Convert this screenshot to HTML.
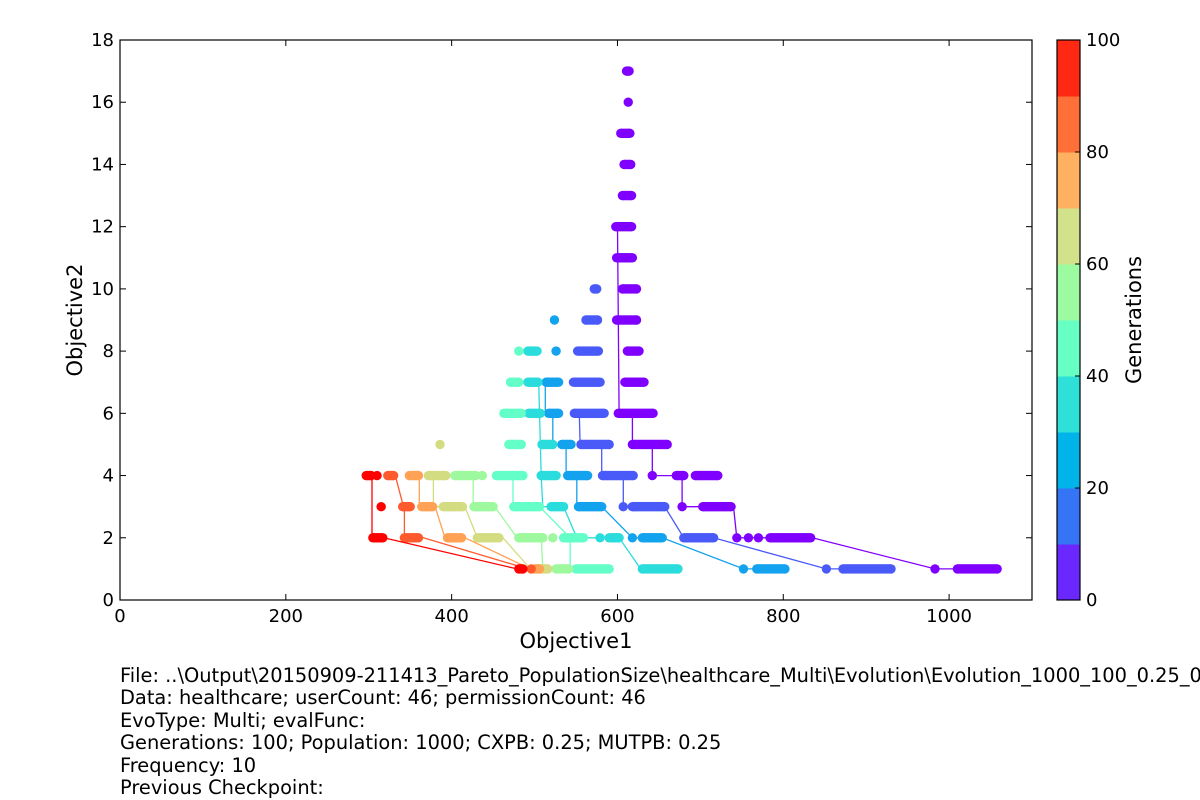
<!DOCTYPE html>
<html>
<head>
<meta charset="utf-8">
<style>
  html, body { margin: 0; padding: 0; background: #ffffff; }
  body { width: 1200px; height: 800px; overflow: hidden; position: relative; font-family: "DejaVu Sans", "Liberation Sans", sans-serif; }
  svg { position: absolute; left: 0; top: 0; }
  .info { position: absolute; left: 120px; top: 665px; width: 1080px; overflow: hidden; font-size: 19.4px; line-height: 22.4px; color: #000; white-space: nowrap; }
</style>
</head>
<body>
<svg id="chart" width="1200" height="800">
  <g id="plot"></g>
  <rect x="120" y="40" width="912" height="560" fill="none" stroke="#000" stroke-width="1.2"/>
  <g id="ticks"></g>
  <text x="576" y="648" font-size="21" text-anchor="middle" font-family="DejaVu Sans, sans-serif">Objective1</text>
  <text x="82" y="320" font-size="21" text-anchor="middle" transform="rotate(-90 82 320)" font-family="DejaVu Sans, sans-serif">Objective2</text>
  <g id="cbar"></g>
  <text x="1141" y="320" font-size="21" text-anchor="middle" transform="rotate(-90 1141 320)" font-family="DejaVu Sans, sans-serif">Generations</text>
</svg>
<div class="info">
  <div>File: ..\Output\20150909-211413_Pareto_PopulationSize\healthcare_Multi\Evolution\Evolution_1000_100_0.25_0.25.pkl</div>
  <div>Data: healthcare; userCount: 46; permissionCount: 46</div>
  <div>EvoType: Multi; evalFunc:</div>
  <div>Generations: 100; Population: 1000; CXPB: 0.25; MUTPB: 0.25</div>
  <div>Frequency: 10</div>
  <div>Previous Checkpoint:</div>
</div>
<script>
// ---- data ----
const generations = [0, 10, 20, 30, 40, 50, 60, 70, 80, 100];
const genColors = ["#7f00ff", "#4a5af8", "#12a2ee", "#2adcdc", "#64ffc8", "#9ef99e", "#d4dc82", "#ffa256", "#ff5a2e", "#ff0000"];
// rows of points per generation: [objective2, objective1 start, objective1 end]
const rows0 = [[17,611,614],[16,613,613],[15,604,615],[14,608,616],[13,606,617],[12,598,617],[11,599,618],[10,606,623],[9,599,623],[8,612,626],[7,609,632],[6,601,643],[5,618,660],[4,642,642],[4,671,680],[4,694,721],[3,678,678],[3,703,737],[2,744,744],[2,758,758],[2,770,770],[2,784,833],[1,983,983],[1,1010,1058]];
const rows10 = [[10,572,575],[9,562,576],[8,552,577],[7,547,579],[6,548,584],[5,556,590],[4,582,619],[3,607,607],[3,618,657],[2,680,716],[1,852,852],[1,872,930]];
const rows20 = [[9,524,524],[8,526,526],[7,514,529],[6,517,529],[5,533,544],[4,540,564],[3,553,581],[2,618,618],[2,630,654],[1,752,752],[1,768,802]];
const rows30 = [[8,492,503],[7,492,504],[6,493,507],[5,509,522],[4,508,526],[3,520,535],[2,579,579],[2,590,602],[1,630,673]];
const rows40 = [[8,481,481],[7,471,481],[6,463,484],[5,469,484],[4,454,486],[3,475,506],[2,535,559],[1,550,590]];
const rows50 = [[4,404,429],[4,437,437],[3,427,450],[2,481,510],[2,522,522],[1,526,541]];
const rows60 = [[5,386,386],[4,372,393],[3,390,413],[2,431,457],[1,502,516]];
const rows70 = [[4,349,360],[3,364,377],[2,395,412],[1,500,506]];
const rows80 = [[4,323,330],[3,341,350],[2,343,360],[1,496,496]];
const rows100 = [[4,297,303],[4,310,310],[3,315,315],[2,305,317],[1,481,486]];
// front lines per generation
const lineX0 = [600,602,618,618,642,642,678,678,740,744,835,983,1058];
const lineY0 = [12,6,6,5,5,4,4,3,3,2,2,1,1];
const lineX10 = [554,555,581,581,607,607,657,680,716,852,930];
const lineY10 = [6,5,5,4,4,3,3,2,2,1,1];
const lineX20 = [513,513,522,522,538,538,551,551,581,618,654,752,802];
const lineY20 = [7,6,6,5,5,4,4,3,3,2,2,1,1];
const lineX30 = [505,508,510,535,551,602,628,673];
const lineY30 = [7,4,3,3,2,2,1,1];
const lineX40 = [474,474,506,543,543,590];
const lineY40 = [4,3,3,2,1,1];
const lineX50 = [426,426,452,479,508,510,541];
const lineY50 = [4,3,3,2,2,1,1];
const lineX60 = [378,378,416,431,462,495,516];
const lineY60 = [4,3,3,2,2,1,1];
const lineX70 = [361,361,380,392,416,495,506];
const lineY70 = [4,3,3,2,2,1,1];
const lineX80 = [332,342,343,343,366,492];
const lineY80 = [4,3,3,2,2,1];
const lineX100 = [304,304,318,479,486];
const lineY100 = [4,2,2,1,1];
const xTicks = [0, 200, 400, 600, 800, 1000];
const yTicks = [0, 2, 4, 6, 8, 10, 12, 14, 16, 18];
const cbarBands = ["#6a28ff", "#3575f5", "#00b4ea", "#2ee0d8", "#66ffc4", "#9cfaa0", "#d2e28a", "#ffb060", "#ff7038", "#ff2812"];
const cbarTicks = [0, 20, 40, 60, 80, 100];

// ---- scales ----
const X0 = 120, X1 = 1032, Y0 = 600, Y1 = 40;
const sx = v => X0 + (v / 1100) * (X1 - X0);
const sy = v => Y0 - (v / 18) * (Y0 - Y1);
const NS = "http://www.w3.org/2000/svg";
const mk = (t, a) => { const e = document.createElementNS(NS, t); for (const k in a) e.setAttribute(k, a[k]); return e; };
const R = 4.7;

const allRows = [rows0, rows10, rows20, rows30, rows40, rows50, rows60, rows70, rows80, rows100];
const allLX = [lineX0, lineX10, lineX20, lineX30, lineX40, lineX50, lineX60, lineX70, lineX80, lineX100];
const allLY = [lineY0, lineY10, lineY20, lineY30, lineY40, lineY50, lineY60, lineY70, lineY80, lineY100];

const plot = document.getElementById("plot");
generations.forEach((g, i) => {
  const col = genColors[i];
  const grp = mk("g", {});
  
  
  const pts = allLX[i].map((x, j) => sx(x).toFixed(1) + "," + sy(allLY[i][j]).toFixed(1)).join(" ");
  const pl = mk("polyline", { points: pts, fill: "none", stroke: col, "stroke-width": 1.3 });
  
  
  grp.appendChild(pl);
  allRows[i].forEach(r => {
    const y = sy(r[0]), xa = sx(r[1]), xb = sx(r[2]);
    const c1 = mk("circle", { cx: xa, cy: y, r: R, fill: col });
    
    
    grp.appendChild(c1);
    if (xb > xa) {
      const c2 = mk("circle", { cx: xb, cy: y, r: R, fill: col });
      
      
      grp.appendChild(c2);
      const rc = mk("rect", { x: xa, y: y - R, width: xb - xa, height: 2 * R, fill: col });
      
      
      grp.appendChild(rc);
    }
  });
  plot.appendChild(grp);
});

// ---- ticks ----
const tk = document.getElementById("ticks");
xTicks.forEach(v => {
  const x = sx(v);
  const t1 = mk("line", { x1: x, y1: Y0, x2: x, y2: Y0 - 6, stroke: "#000", "stroke-width": 1 });
  
  
  tk.appendChild(t1);
  const t2 = mk("line", { x1: x, y1: Y1, x2: x, y2: Y1 + 6, stroke: "#000", "stroke-width": 1 });
  
  
  tk.appendChild(t2);
  const lb = mk("text", { x: x, y: Y0 + 22, "font-size": 18, "text-anchor": "middle", "font-family": "DejaVu Sans, sans-serif" });
  lb.textContent = v;
  
  
  tk.appendChild(lb);
});
yTicks.forEach(v => {
  const y = sy(v);
  const t1 = mk("line", { x1: X0, y1: y, x2: X0 + 6, y2: y, stroke: "#000", "stroke-width": 1 });
  
  
  tk.appendChild(t1);
  const t2 = mk("line", { x1: X1, y1: y, x2: X1 - 6, y2: y, stroke: "#000", "stroke-width": 1 });
  
  
  tk.appendChild(t2);
  const lb = mk("text", { x: X0 - 6, y: y + 6, "font-size": 18, "text-anchor": "end", "font-family": "DejaVu Sans, sans-serif" });
  lb.textContent = v;
  
  
  tk.appendChild(lb);
});

// ---- colorbar ----
const cb = document.getElementById("cbar");
const CX = 1057, CW = 23, bandH = (Y0 - Y1) / cbarBands.length;
cbarBands.forEach((c, i) => {
  const r = mk("rect", { x: CX, y: Y0 - (i + 1) * bandH, width: CW, height: bandH + 0.5, fill: c });
  
  
  cb.appendChild(r);
});
const fr = mk("rect", { x: CX, y: Y1, width: CW, height: Y0 - Y1, fill: "none", stroke: "#000", "stroke-width": 1.2 });


cb.appendChild(fr);
cbarTicks.forEach(v => {
  const y = Y0 - (v / 100) * (Y0 - Y1);
  const t = mk("line", { x1: CX + CW, y1: y, x2: CX + CW - 5, y2: y, stroke: "#000", "stroke-width": 1 });
  
  
  cb.appendChild(t);
  const lb = mk("text", { x: CX + CW + 6, y: y + 6, "font-size": 18, "font-family": "DejaVu Sans, sans-serif" });
  lb.textContent = v;
  
  
  cb.appendChild(lb);
});
</script>
</body>
</html>
